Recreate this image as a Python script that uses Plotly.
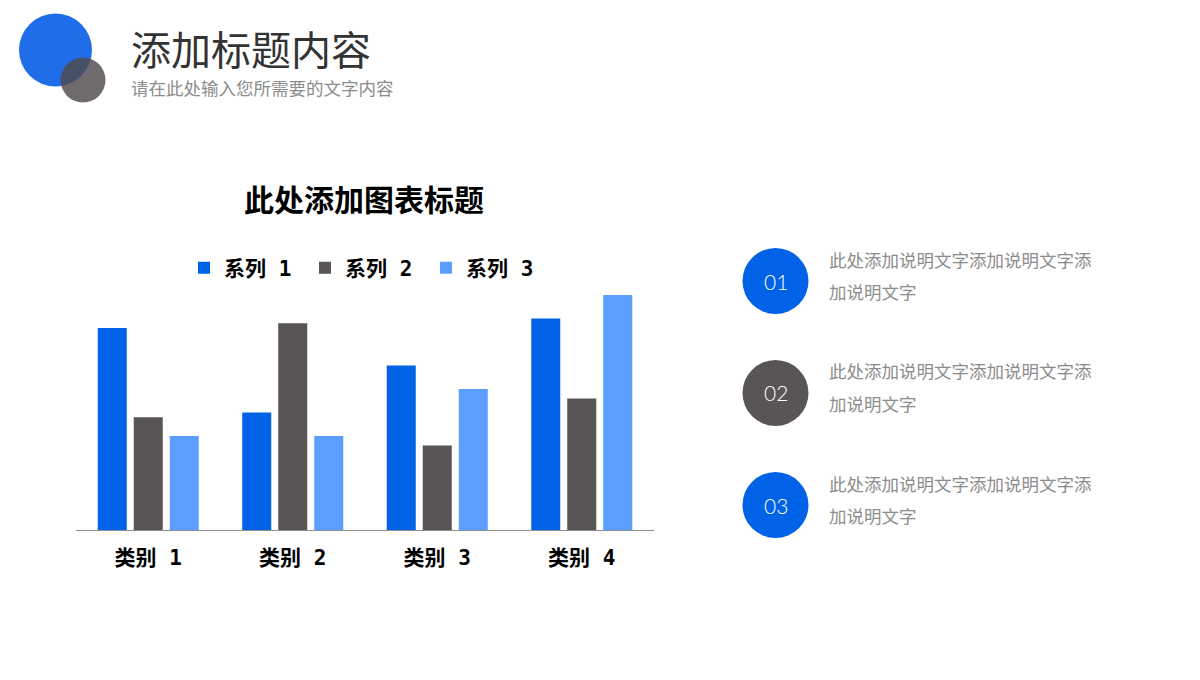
import plotly.graph_objects as go

W, H = 1200, 680

categories = ["类别 1", "类别 2", "类别 3", "类别 4"]
series_names = ["系列 1", "系列 2", "系列 3"]
series1 = [4.3, 2.5, 3.5, 4.5]
series2 = [2.4, 4.4, 1.8, 2.8]
series3 = [2.0, 2.0, 3.0, 5.0]
series_colors = ["#0062E6", "#595556", "#5B9EFF"]

chart_title = "此处添加图表标题"
page_title = "添加标题内容"
page_subtitle = "请在此处输入您所需要的文字内容"
item_numbers = ["01", "02", "03"]
item_colors = ["#0062E6", "#595556", "#0062E6"]
item_line1 = ["此处添加说明文字添加说明文字添"] * 3
item_line2 = ["加说明文字"] * 3

CJK = "Noto Sans CJK SC"
MIX = "DejaVu Sans Mono, Noto Sans CJK SC"


def px(x):
    return x / W


def py(y):
    return 1 - y / H


fig = go.Figure()
for name, vals, col in zip(series_names, [series1, series2, series3], series_colors):
    fig.add_trace(go.Bar(x=categories, y=vals, name=name, marker_color=col,
                         marker_line_width=0))

shapes = []


def circle(cx, cy, r, color, opacity=1.0):
    return dict(type="circle", xref="paper", yref="paper",
                x0=px(cx - r), x1=px(cx + r), y0=py(cy + r), y1=py(cy - r),
                fillcolor=color, line_width=0, opacity=opacity, layer="above")


shapes.append(circle(55.5, 50, 36.5, "#1F6DE8"))
shapes.append(circle(83, 80, 22.5, "#4F4B4C", 0.82))

annotations = [
    dict(text=page_title, x=px(129), y=py(48), xref="paper", yref="paper",
         xanchor="left", yanchor="middle", showarrow=False,
         font=dict(family=CJK, size=40, color="#333333")),
    dict(text=page_subtitle, x=px(129), y=py(88), xref="paper", yref="paper",
         xanchor="left", yanchor="middle", showarrow=False,
         font=dict(family=CJK, size=17.5, color="#8C8C8C")),
    dict(text="<b>" + chart_title + "</b>", x=px(364), y=py(198), xref="paper", yref="paper",
         xanchor="center", yanchor="middle", showarrow=False,
         font=dict(family=CJK, size=30, color="#000000")),
]

item_y = [281, 393, 505]
for num, col, l1, l2, cy in zip(item_numbers, item_colors, item_line1, item_line2, item_y):
    shapes.append(circle(775.5, cy, 33, col))
    annotations.append(dict(text=num, x=px(775.5), y=py(cy), xref="paper", yref="paper",
                            xanchor="center", yanchor="middle", showarrow=False,
                            font=dict(family="Lato", size=21, color="#FFFFFF", weight=300)))
    annotations.append(dict(text=l1, x=px(827), y=py(cy - 22), xref="paper", yref="paper",
                            xanchor="left", yanchor="middle", showarrow=False,
                            font=dict(family=CJK, size=17.5, color="#8C8C8C")))
    annotations.append(dict(text=l2, x=px(827), y=py(cy + 10), xref="paper", yref="paper",
                            xanchor="left", yanchor="middle", showarrow=False,
                            font=dict(family=CJK, size=17.5, color="#8C8C8C")))

fig.update_layout(
    width=W, height=H,
    margin=dict(l=0, r=0, t=0, b=0),
    paper_bgcolor="#FFFFFF", plot_bgcolor="#FFFFFF",
    barmode="group", bargap=0.2526, bargroupgap=0.194,
    showlegend=True,
    legend=dict(orientation="h", x=px(184), y=py(268), xanchor="left", yanchor="middle",
                font=dict(family=MIX, size=21, color="#000000", weight="bold"),
                entrywidth=76, entrywidthmode="pixels", itemwidth=30,
                bgcolor="rgba(0,0,0,0)"),
    xaxis=dict(domain=[px(76), px(654)], showline=True, linecolor="#8C8C8C", linewidth=1,
               ticks="", showgrid=False, ticklabelstandoff=9,
               tickfont=dict(family=MIX, size=21, color="#000000", weight="bold")),
    yaxis=dict(domain=[py(530), py(248)], range=[0, 6], visible=False, showgrid=False),
    shapes=shapes,
    annotations=annotations,
)

fig.write_html("out.html")
